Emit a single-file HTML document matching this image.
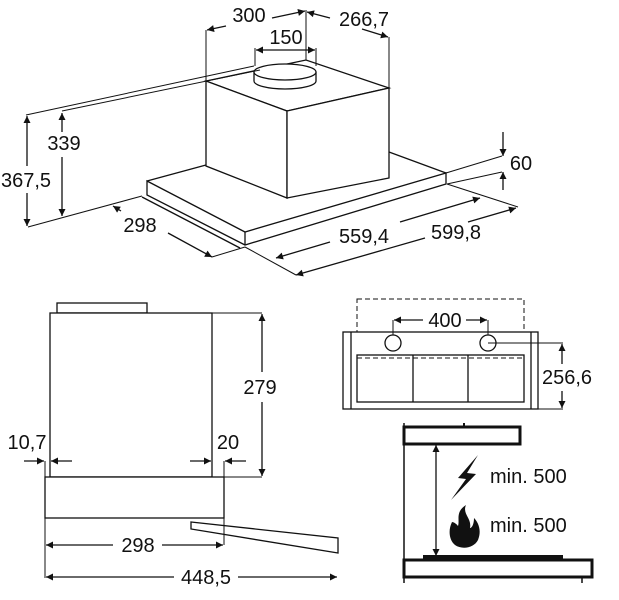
<!DOCTYPE html>
<html><head><meta charset="utf-8"><style>
html,body{margin:0;padding:0;background:#fff}
svg{display:block}
text{font-family:"Liberation Sans",sans-serif;font-size:20px;fill:#111}
</style></head><body>
<svg width="619" height="600" viewBox="0 0 619 600" xmlns="http://www.w3.org/2000/svg">
<defs>
<marker id="a" viewBox="0 0 10 10" refX="10" refY="5" markerWidth="9" markerHeight="7" orient="auto-start-reverse" markerUnits="userSpaceOnUse"><path d="M0,0 L10,5 L0,10 z" fill="#111"/></marker>
</defs>
<g stroke="#111" fill="none" stroke-width="1.3">
<path d="M147,181 L245,232 L446,173 L446,184 L245,245 L147,195 Z" fill="#fff"/>
<line x1="245" y1="232" x2="245" y2="245"/>
<line x1="147" y1="181" x2="206" y2="165"/>
<line x1="389" y1="152" x2="446" y2="173"/>
<line x1="142" y1="197" x2="240" y2="248"/>
<path d="M206,81 L287,111 L389,88 L306,60 Z" fill="#fff"/>
<path d="M206,81 L206,166 L287,198 L287,111 Z" fill="#fff"/>
<path d="M287,111 L287,198 L389,178 L389,88 Z" fill="#fff"/>
<path d="M254,72 L254,81 A31,8 0 0 0 316,81 L316,72" fill="#fff"/>
<ellipse cx="285" cy="72" rx="31" ry="8" fill="#fff"/>
<line x1="254" y1="66" x2="26" y2="115" stroke-width="1"/>
<line x1="260" y1="70" x2="62" y2="111" stroke-width="1"/>
<line x1="28" y1="227" x2="142" y2="196" stroke-width="1"/>
<line x1="206" y1="81" x2="206" y2="30" stroke-width="1"/>
<line x1="306" y1="60" x2="306" y2="10" stroke-width="1"/>
<line x1="389" y1="88" x2="389" y2="37" stroke-width="1"/>
<line x1="255" y1="48" x2="255" y2="66" stroke-width="1"/>
<line x1="316" y1="48" x2="316" y2="66" stroke-width="1"/>
<line x1="212" y1="257" x2="245" y2="247" stroke-width="1"/>
<line x1="245" y1="247" x2="296" y2="275" stroke-width="1"/>
<line x1="447" y1="184" x2="518" y2="207" stroke-width="1"/>
<line x1="446" y1="173" x2="502" y2="156" stroke-width="1"/>
<line x1="447" y1="184" x2="502" y2="172" stroke-width="1"/>
<line x1="226" y1="26" x2="207" y2="30" marker-end="url(#a)"/>
<line x1="272" y1="18" x2="305" y2="11" marker-end="url(#a)"/>
<line x1="330" y1="18" x2="307" y2="12" marker-end="url(#a)"/>
<line x1="362" y1="29" x2="388" y2="37" marker-end="url(#a)"/>
<line x1="256" y1="50" x2="315" y2="50" marker-start="url(#a)" marker-end="url(#a)"/>
<line x1="62" y1="113" x2="62" y2="132" marker-start="url(#a)"/>
<line x1="62" y1="157" x2="62" y2="216" marker-end="url(#a)"/>
<line x1="27" y1="116" x2="27" y2="166" marker-start="url(#a)"/>
<line x1="27" y1="193" x2="27" y2="226" marker-end="url(#a)"/>
<line x1="121" y1="211" x2="113" y2="206" marker-end="url(#a)"/>
<line x1="168" y1="233" x2="212" y2="257" marker-end="url(#a)"/>
<line x1="330" y1="242" x2="276" y2="258" marker-end="url(#a)"/>
<line x1="400" y1="222" x2="480" y2="198" marker-end="url(#a)"/>
<line x1="425" y1="238" x2="296" y2="275" marker-end="url(#a)"/>
<line x1="468" y1="222" x2="516" y2="208" marker-end="url(#a)"/>
<line x1="503" y1="132" x2="503" y2="156" marker-end="url(#a)"/>
<line x1="503" y1="190" x2="503" y2="172" marker-end="url(#a)"/>

<rect x="57" y="303" width="90" height="10" fill="#fff"/>
<rect x="50" y="313" width="162" height="164" fill="#fff"/>
<rect x="45" y="477" width="179" height="41" fill="#fff"/>
<path d="M191,522 L338,538 L338,553 L191,529 Z" fill="#fff"/>
<line x1="212" y1="313" x2="262" y2="313" stroke-width="1"/>
<line x1="212" y1="477" x2="262" y2="477" stroke-width="1"/>
<line x1="262" y1="314" x2="262" y2="372" marker-start="url(#a)"/>
<line x1="262" y1="402" x2="262" y2="476" marker-end="url(#a)"/>
<line x1="45" y1="461" x2="45" y2="578" stroke-width="1"/>
<line x1="224" y1="461" x2="224" y2="545" stroke-width="1"/>
<line x1="24" y1="461" x2="44" y2="461" marker-end="url(#a)"/>
<line x1="72" y1="461" x2="51" y2="461" marker-end="url(#a)"/>
<line x1="190" y1="461" x2="211" y2="461" marker-end="url(#a)"/>
<line x1="246" y1="461" x2="225" y2="461" marker-end="url(#a)"/>
<line x1="46" y1="545" x2="113" y2="545" marker-start="url(#a)"/>
<line x1="162" y1="545" x2="223" y2="545" marker-end="url(#a)"/>
<line x1="46" y1="577" x2="174" y2="577" marker-start="url(#a)"/>
<line x1="238" y1="577" x2="337" y2="577" marker-end="url(#a)"/>

<rect x="357" y="299" width="167" height="59" stroke-dasharray="5,3" stroke-width="1"/>
<rect x="343" y="332" width="195" height="77" fill="#fff"/>
<line x1="351" y1="332" x2="351" y2="409"/>
<line x1="531" y1="332" x2="531" y2="409"/>
<rect x="357" y="355" width="167" height="47"/>
<line x1="357" y1="358" x2="524" y2="358" stroke-dasharray="5,3" stroke-width="1"/>
<line x1="413" y1="355" x2="413" y2="402"/>
<line x1="468" y1="355" x2="468" y2="402"/>
<circle cx="393" cy="343" r="8" fill="#fff"/>
<circle cx="488" cy="343" r="8" fill="#fff"/>
<line x1="393" y1="335" x2="393" y2="320" stroke-width="1"/>
<line x1="488" y1="335" x2="488" y2="320" stroke-width="1"/>
<line x1="394" y1="320" x2="423" y2="320" marker-start="url(#a)"/>
<line x1="466" y1="320" x2="487" y2="320" marker-end="url(#a)"/>
<line x1="488" y1="343" x2="563" y2="343" stroke-width="1"/>
<line x1="538" y1="409" x2="563" y2="409" stroke-width="1"/>
<line x1="562" y1="344" x2="562" y2="364" marker-start="url(#a)"/>
<line x1="562" y1="391" x2="562" y2="408" marker-end="url(#a)"/>

<line x1="404" y1="423" x2="404" y2="583" stroke-width="1.5"/>
<rect x="404" y="427" width="116" height="17" stroke-width="3" fill="#fff"/>
<line x1="464" y1="423" x2="464" y2="427" stroke-width="2"/>
<line x1="436" y1="445" x2="436" y2="556" marker-start="url(#a)" marker-end="url(#a)"/>
<rect x="423" y="555" width="140" height="4" fill="#111" stroke="none"/>
<rect x="404" y="560" width="188" height="17" stroke-width="3" fill="#fff"/>
<line x1="582" y1="577" x2="582" y2="583" stroke-width="1.5"/>
</g>
<path d="M478,455 L458,478 L466,479 L451,500 L476,474 L467,473 Z" fill="#111"/>
<path d="M466,505 C455,512 460,520 458,526 C455,522 452,522 452,522 C448,530 449,540 455,545 C462,550 474,548 478,540 C482,530 478,522 474,518 C474,524 472,528 470,528 C472,518 462,514 466,505 Z" fill="#111"/>

<text x="249" y="22" text-anchor="middle">300</text>
<text x="364" y="26" text-anchor="middle">266,7</text>
<text x="286" y="44" text-anchor="middle">150</text>
<text x="64" y="150" text-anchor="middle">339</text>
<text x="26" y="187" text-anchor="middle">367,5</text>
<text x="140" y="232" text-anchor="middle">298</text>
<text x="364" y="243" text-anchor="middle">559,4</text>
<text x="456" y="239" text-anchor="middle">599,8</text>
<text x="521" y="170" text-anchor="middle">60</text>
<text x="260" y="394" text-anchor="middle">279</text>
<text x="27" y="449" text-anchor="middle">10,7</text>
<text x="228" y="449" text-anchor="middle">20</text>
<text x="138" y="552" text-anchor="middle">298</text>
<text x="206" y="584" text-anchor="middle">448,5</text>
<text x="445" y="327" text-anchor="middle">400</text>
<text x="567" y="384" text-anchor="middle">256,6</text>
<text x="490" y="483">min. 500</text>
<text x="490" y="532">min. 500</text>
</svg>
</body></html>
